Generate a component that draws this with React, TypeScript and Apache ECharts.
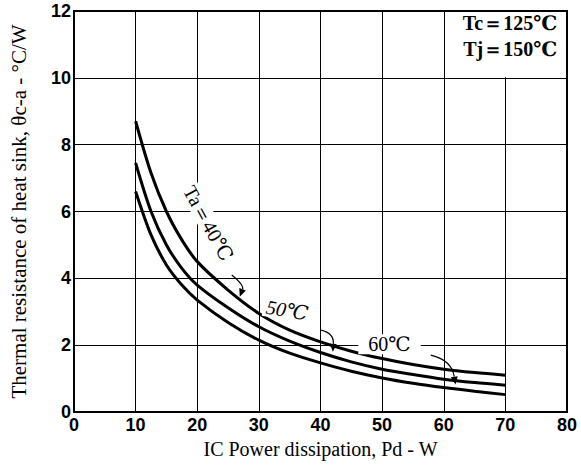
import React, { useEffect, useRef } from "react";
import * as echarts from "echarts";

const pd = [10, 12.5, 15, 17.5, 20, 25, 30, 35, 40, 45, 50, 55, 60, 65, 70];
const ta40 = [8.7, 7.15, 6.0, 5.15, 4.5, 3.65, 2.95, 2.45, 2.1, 1.82, 1.6, 1.42, 1.28, 1.18, 1.1];
const ta50 = [7.45, 6.0, 5.0, 4.3, 3.8, 3.12, 2.55, 2.12, 1.78, 1.5, 1.28, 1.12, 0.98, 0.88, 0.8];
const ta60 = [6.6, 5.3, 4.4, 3.8, 3.35, 2.68, 2.15, 1.76, 1.47, 1.22, 1.02, 0.86, 0.73, 0.62, 0.52];
const curveNames = ["Ta＝40℃", "50℃", "60℃"];
const conditionLines = ["Tc＝125℃", "Tj＝150℃"];

const SERIF = "'Liberation Serif', 'DejaVu Serif', serif";
const TICK = "'Liberation Sans Narrow', 'Liberation Sans', Arial, sans-serif";

export default function App() {
  const ref = useRef<HTMLDivElement>(null);
  useEffect(() => {
    if (!ref.current) return;
    const chart = echarts.init(ref.current, undefined, { renderer: "svg" });
    const mk = (name: string, ys: number[]) => ({
      name,
      type: "line",
      smooth: 0.3,
      symbol: "none",
      lineStyle: { color: "#000", width: 3 },
      data: pd.map((x, i) => [x, ys[i]]),
    });
    chart.setOption({
      animation: false,
      backgroundColor: "#fff",
      grid: {
        left: 73,
        right: 14,
        top: 11,
        bottom: 53,
        show: true,
        borderColor: "#000",
        borderWidth: 2,
      },
      xAxis: {
        type: "value",
        min: 0,
        max: 80,
        interval: 10,
        name: "IC Power dissipation, Pd - W",
        nameLocation: "middle",
        nameGap: 24,
        nameTextStyle: { fontFamily: SERIF, fontSize: 20, color: "#000" },
        axisLine: { show: true, lineStyle: { color: "#000", width: 2 } },
        axisTick: { show: false },
        axisLabel: { fontFamily: TICK, fontWeight: "bold", fontSize: 18, color: "#000", margin: 4 },
        splitLine: { show: true, lineStyle: { color: "#000", width: 1 } },
      },
      yAxis: {
        type: "value",
        min: 0,
        max: 12,
        interval: 2,
        name: "Thermal resistance of heat sink, θc-a - °C/W",
        nameLocation: "middle",
        nameGap: 45,
        nameTextStyle: { fontFamily: SERIF, fontSize: 21, color: "#000" },
        axisLine: { show: true, lineStyle: { color: "#000", width: 2 } },
        axisTick: { show: false },
        axisLabel: { fontFamily: TICK, fontWeight: "bold", fontSize: 18, color: "#000", margin: 3 },
        splitLine: { show: true, lineStyle: { color: "#000", width: 1 } },
      },
      series: [mk(curveNames[0], ta40), mk(curveNames[1], ta50), mk(curveNames[2], ta60)],
    });

    const p = (x: number, y: number) => chart.convertToPixel({ gridIndex: 0 }, [x, y]) as number[];

    const arrow = (a: number[], c: number[], b: number[]) => {
      const A = p(a[0], a[1]);
      const C = p(c[0], c[1]);
      const B = p(b[0], b[1]);
      const ang = Math.atan2(B[1] - C[1], B[0] - C[0]);
      const L = 8;
      const W = 3.5;
      const bx = B[0] - L * Math.cos(ang);
      const by = B[1] - L * Math.sin(ang);
      return [
        {
          type: "bezierCurve",
          z: 12,
          shape: { x1: A[0], y1: A[1], cpx1: C[0], cpy1: C[1], x2: bx, y2: by },
          style: { stroke: "#000", lineWidth: 1.2, fill: null },
        },
        {
          type: "polygon",
          z: 12,
          shape: {
            points: [
              [B[0], B[1]],
              [bx + W * Math.sin(ang), by - W * Math.cos(ang)],
              [bx - W * Math.sin(ang), by + W * Math.cos(ang)],
            ],
          },
          style: { fill: "#000" },
        },
      ];
    };

    const boxTL = p(61, 12);
    const boxBR = p(80, 10);
    const t40 = p(21.8, 5.65);
    const t50 = p(34.6, 3.05);
    const t60 = p(51.2, 2.03);
    const tc = p(78.4, 11.63);
    const tj = p(78.4, 10.85);

    chart.setOption({
      graphic: [
        {
          type: "rect",
          shape: { x: boxTL[0], y: boxTL[1] + 1, width: boxBR[0] - boxTL[0] - 1, height: boxBR[1] - boxTL[1] - 1.5 },
          style: { fill: "#fff" },
          z: 10,
        },
        {
          type: "text",
          x: tc[0],
          y: tc[1],
          z: 11,
          style: { text: conditionLines[0], font: `bold 20px ${SERIF}`, fill: "#000", align: "right", verticalAlign: "middle" },
        },
        {
          type: "text",
          x: tj[0],
          y: tj[1],
          z: 11,
          style: { text: conditionLines[1], font: `bold 20px ${SERIF}`, fill: "#000", align: "right", verticalAlign: "middle" },
        },
        {
          type: "text",
          x: t40[0],
          y: t40[1],
          rotation: -1.07,
          z: 11,
          style: { text: curveNames[0], font: `20px ${SERIF}`, fill: "#000", align: "center", verticalAlign: "middle", backgroundColor: "#fff", padding: [0, 2] },
        },
        {
          type: "text",
          x: t50[0],
          y: t50[1],
          rotation: -0.17,
          z: 11,
          style: { text: curveNames[1], font: `italic 20px ${SERIF}`, fill: "#000", align: "center", verticalAlign: "middle", backgroundColor: "#fff", padding: [0, 3] },
        },
        {
          type: "text",
          x: t60[0],
          y: t60[1],
          z: 11,
          style: { text: curveNames[2], font: `20px ${SERIF}`, fill: "#000", align: "center", verticalAlign: "middle", backgroundColor: "#fff", padding: [0, 10] },
        },
        ...arrow([25.6, 4.1], [27.6, 3.8], [26.9, 3.45]),
        ...arrow([40.1, 2.45], [42.2, 2.36], [42.0, 1.8]),
        ...arrow([57.9, 1.7], [61.3, 1.55], [61.9, 0.82]),
      ],
    });

    return () => chart.dispose();
  }, []);
  return <div ref={ref} style={{ position: "fixed", left: 0, top: 0, width: 581, height: 465 }} />;
}
